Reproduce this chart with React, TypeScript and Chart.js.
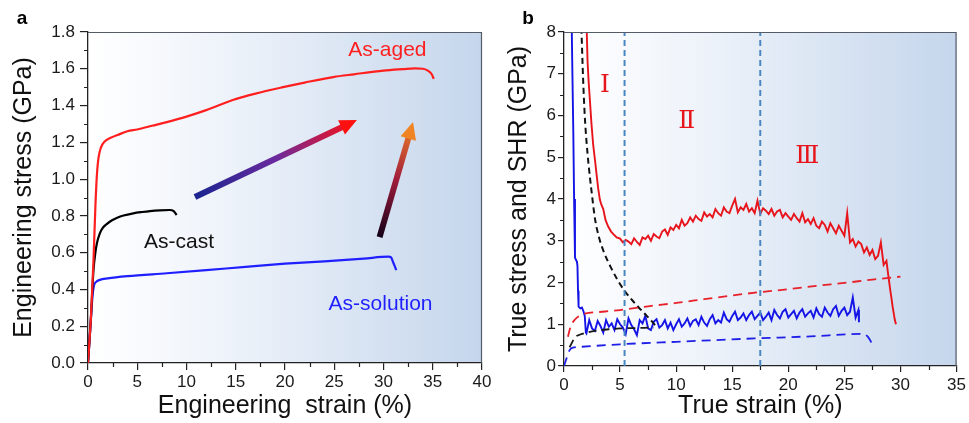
import React, { useEffect, useRef } from 'react';
import { Chart, registerables } from 'chart.js';

Chart.register(...registerables);

const FONT = "'Liberation Sans', Arial, sans-serif";

// ---------------- Panel a : engineering stress-strain ----------------
const xTicksA = [0, 5, 10, 15, 20, 25, 30, 35, 40];
const yTicksA = [0, 0.2, 0.4, 0.6, 0.8, 1.0, 1.2, 1.4, 1.6, 1.8];
const yTickLabelsA = ['0.0', '0.2', '0.4', '0.6', '0.8', '1.0', '1.2', '1.4', '1.6', '1.8'];

const agedStrain = [0, 0.3, 0.55, 0.75, 0.9, 1.05, 1.3, 1.7, 2.3, 3.0, 4.0, 5.0, 6.5, 8.0, 10, 12, 14.7, 17, 19.8, 22, 24.9, 27, 30, 32, 33.2, 34.0, 34.5, 34.9, 35.1];
const agedStress = [0, 0.25, 0.55, 0.85, 1.02, 1.11, 1.17, 1.205, 1.225, 1.24, 1.26, 1.27, 1.29, 1.31, 1.34, 1.375, 1.43, 1.465, 1.5, 1.525, 1.555, 1.57, 1.59, 1.598, 1.602, 1.6, 1.59, 1.57, 1.545];

const castStrain = [0, 0.3, 0.55, 0.75, 0.9, 1.2, 1.5, 1.9, 2.4, 2.9, 3.6, 4.6, 5.5, 6.3, 7.3, 8.3, 8.7, 9.0];
const castStress = [0, 0.25, 0.5, 0.6, 0.65, 0.705, 0.735, 0.755, 0.775, 0.788, 0.802, 0.814, 0.821, 0.826, 0.83, 0.832, 0.826, 0.805];

const solStrain = [0, 0.25, 0.45, 0.6, 0.8, 1.2, 2, 4, 8, 12, 16, 20, 24, 28, 30.5, 30.75, 31.0, 31.3];
const solStress = [0, 0.2, 0.36, 0.42, 0.44, 0.452, 0.46, 0.472, 0.488, 0.505, 0.523, 0.54, 0.553, 0.568, 0.578, 0.575, 0.545, 0.505];

const labelsA = [
  { text: 'As-aged', x: 30.4, y: 1.70, color: '#ff1f1f' },
  { text: 'As-cast', x: 9.24, y: 0.658, color: '#111111' },
  { text: 'As-solution', x: 29.7, y: 0.32, color: '#1f1fff' },
];

const arrowsA = [
  { x0: 10.86, y0: 0.903, x1: 27.3, y1: 1.321, colors: ['#1a2590', '#6a2a9e', '#ff1010'] },
  { x0: 29.6, y0: 0.685, x1: 33.0, y1: 1.31, colors: ['#120018', '#a01c3c', '#f08424'] },
];

// ---------------- Panel b : true stress and SHR ----------------
const xTicksB = [0, 5, 10, 15, 20, 25, 30, 35];
const yTicksB = [0, 1, 2, 3, 4, 5, 6, 7, 8];
const yTickLabelsB = ['0', '1', '2', '3', '4', '5', '6', '7', '8'];

const stageLines = [5.4, 17.5];

// As-aged strain-hardening rate (solid red)
const agedShrX = [
  2.0, 2.1, 2.2, 2.3, 2.45, 2.6, 2.76, 2.9, 3.05, 3.2, 3.35, 3.5, 3.7, 3.94, 4.2, 4.4, 4.7, 5.0,
  5.25, 5.5, 5.75, 6, 6.25, 6.5, 6.75, 7,
  7.25, 7.5, 7.75, 8, 8.25, 8.5, 8.75, 9,
  9.25, 9.5, 9.75, 10, 10.25, 10.5, 10.75, 11,
  11.25, 11.5, 11.75, 12, 12.25, 12.5, 12.75, 13,
  13.25, 13.5, 13.75, 14, 14.25, 14.5, 14.75, 15,
  15.25, 15.5, 15.75, 16, 16.25, 16.5, 16.75, 17,
  17.25, 17.5, 17.75, 18, 18.25, 18.5, 18.75, 19,
  19.25, 19.5, 19.75, 20, 20.25, 20.5, 20.75, 21,
  21.25, 21.5, 21.75, 22, 22.25, 22.5, 22.75, 23,
  23.25, 23.5, 23.75, 24, 24.25, 24.5, 24.75, 25,
  25.25, 25.5, 25.75, 26, 26.25, 26.5, 26.75, 27,
  27.25, 27.5, 27.75, 28, 28.25, 28.5, 28.75,
  28.9, 29.0, 29.1, 29.2, 29.3, 29.4, 29.5, 29.6,
];
const agedShrY = [
  8.3, 7.3, 6.8, 6.4, 5.8, 5.3, 4.94, 4.6, 4.25, 3.98, 3.85, 3.76, 3.5, 3.34, 3.22, 3.16, 3.08, 3.05,
  2.96, 3.02, 2.98, 2.92, 3.06, 2.97, 2.9, 3.08,
  3.04, 3.12, 3.0, 3.16, 3.1, 3.06, 3.22, 3.27,
  3.14, 3.32, 3.26, 3.38, 3.3, 3.5, 3.36, 3.42,
  3.56, 3.46, 3.6, 3.52, 3.48, 3.68, 3.58, 3.64,
  3.56, 3.76, 3.66, 3.6, 3.8, 3.7, 3.66, 3.84,
  4.0, 3.68, 3.8, 3.74, 3.88, 3.7, 3.78, 3.66,
  3.96, 3.64, 3.78, 3.72, 3.64, 3.76, 3.6, 3.7,
  3.74, 3.56, 3.66, 3.58, 3.5, 3.64, 3.54, 3.46,
  3.66, 3.44, 3.52, 3.4, 3.54, 3.36, 3.3, 3.46,
  3.38, 3.22, 3.42, 3.3, 3.18, 3.36, 3.24, 3.12,
  3.66, 2.96, 3.04, 2.86, 2.98, 2.92, 2.72, 2.84,
  2.66, 2.78, 2.56, 2.64, 2.96, 2.42, 2.52,
  2.2, 2.0, 1.8, 1.62, 1.42, 1.26, 1.1, 1.0,
];

// As-aged true stress (dashed red)
const agedTrueX = [0.35, 0.6, 1.0, 1.5, 2.2, 3.0, 5, 7.5, 10, 12.5, 15, 17.5, 20, 22.5, 25, 27.5, 30];
const agedTrueY = [0.7, 0.95, 1.12, 1.22, 1.27, 1.29, 1.34, 1.43, 1.51, 1.6, 1.69, 1.77, 1.84, 1.92, 1.99, 2.07, 2.14];

// As-cast SHR (dashed black)
const castShrX = [1.55, 1.7, 1.85, 2.0, 2.2, 2.45, 2.75, 3.1, 3.6, 4.2, 4.8, 5.4, 6.0, 6.6, 7.2, 7.8, 8.3];
const castShrY = [8.1, 6.9, 6.0, 5.4, 4.8, 4.2, 3.55, 3.1, 2.7, 2.35, 2.05, 1.8, 1.6, 1.42, 1.25, 1.08, 0.92];

// As-cast true stress (dashed black, low)
const castTrueX = [0.5, 1.0, 1.5, 2.0, 3.0, 4.0, 5.0, 6.5, 8.0];
const castTrueY = [0.45, 0.69, 0.76, 0.8, 0.85, 0.88, 0.9, 0.91, 0.92];

// As-solution SHR (solid blue)
const solShrX = [
  0.68, 0.75, 0.83, 0.9, 0.98, 1.05, 1.15, 1.2, 1.25, 1.3, 1.45, 1.6, 1.75, 1.85, 1.95,
  2, 2.25, 2.5, 2.75, 3, 3.25, 3.5, 3.75,
  4, 4.25, 4.5, 4.75, 5, 5.25, 5.5, 5.75,
  6, 6.25, 6.5, 6.75, 7, 7.25, 7.5, 7.75,
  8, 8.25, 8.5, 8.75, 9, 9.25, 9.5, 9.75,
  10, 10.25, 10.5, 10.75, 11, 11.25, 11.5, 11.75,
  12, 12.25, 12.5, 12.75, 13, 13.25, 13.5, 13.75,
  14, 14.25, 14.5, 14.75, 15, 15.25, 15.5, 15.75,
  16, 16.25, 16.5, 16.75, 17, 17.25, 17.5, 17.75,
  18, 18.25, 18.5, 18.75, 19, 19.25, 19.5, 19.75,
  20, 20.25, 20.5, 20.75, 21, 21.25, 21.5, 21.75,
  22, 22.25, 22.5, 22.75, 23, 23.25, 23.5, 23.75,
  24, 24.25, 24.5, 24.75, 25, 25.25, 25.5, 25.75,
  26, 26.25, 26.3,
];
const solShrY = [
  8.3, 7.0, 5.6, 4.0, 2.6, 2.55, 2.5, 2.4, 1.8, 1.42, 1.38, 1.4, 1.3, 1.2, 0.8,
  0.78, 1.1, 0.9, 0.84, 1.08, 0.96, 0.8, 1.1,
  0.94, 1.02, 0.86, 1.12, 1.0, 0.92, 0.76, 1.14,
  0.98, 0.88, 0.74, 1.1, 1.02, 1.2, 0.9, 0.86,
  1.06, 1.12, 0.92, 0.98, 1.1, 0.9, 1.04, 0.86,
  1.0, 1.12, 0.94, 1.02, 1.14, 0.96, 1.08, 1.12,
  0.98, 1.18, 1.04, 0.96, 1.12, 1.22, 1.02, 1.1,
  1.04, 1.28, 1.12, 1.06, 1.2, 1.3, 1.1, 1.16,
  1.26, 1.1, 1.22, 1.3, 1.12, 1.2, 1.28, 1.1,
  1.18, 1.28, 1.1, 1.34, 1.22, 1.14, 1.3, 1.36,
  1.16, 1.24, 1.32, 1.14, 1.28, 1.36, 1.18, 1.26,
  1.32, 1.16, 1.38, 1.24, 1.18, 1.4, 1.28, 1.2,
  1.36, 1.44, 1.2, 1.32, 1.4, 1.22, 1.3, 1.64,
  1.16, 1.34, 1.05,
];

// As-solution true stress (dashed blue)
const solTrueX = [0, 0.25, 0.5, 0.8, 1.5, 5, 10, 17, 22, 26.6, 27.1, 27.5];
const solTrueY = [0, 0.2, 0.38, 0.44, 0.46, 0.52, 0.58, 0.66, 0.71, 0.77, 0.7, 0.52];

const stageLabels = [
  { text: 'Ⅰ', x: 3.64, y: 6.73 },
  { text: 'Ⅱ', x: 10.95, y: 5.85 },
  { text: 'Ⅲ', x: 21.7, y: 5.01 },
];

// ---------------- helpers ----------------
const pts = (xs: number[], ys: number[]) => xs.map((x, i) => ({ x, y: ys[i] }));

type Txt = { text: string; x: number; y: number; color?: string };
type Arr = { x0: number; y0: number; x1: number; y1: number; colors: string[] };

function decorPlugin(cfg: {
  panel: string;
  panelX: number;
  xTicks: number[];
  yTicks: number[];
  texts: Txt[];
  textFont: string;
  textColor?: string;
  arrows: Arr[];
}) {
  return {
    id: 'decor' + cfg.panel,
    beforeDraw(chart: any) {
      const { ctx, chartArea: a } = chart;
      ctx.save();
      const g = ctx.createLinearGradient(a.left, 0, a.right, 0);
      g.addColorStop(0, '#ffffff');
      g.addColorStop(0.35, '#eef3fa');
      g.addColorStop(1, '#c5d6ec');
      ctx.fillStyle = g;
      ctx.fillRect(a.left, a.top, a.right - a.left, a.bottom - a.top);
      ctx.restore();
    },
    afterDraw(chart: any) {
      const { ctx, chartArea: a, scales } = chart;
      const xs = scales.x, ys = scales.y;
      ctx.save();
      // frame (top & right)
      ctx.strokeStyle = '#555b66';
      ctx.lineWidth = 1.2;
      ctx.beginPath();
      ctx.moveTo(a.left, a.top + 0.5);
      ctx.lineTo(a.right - 0.5, a.top + 0.5);
      ctx.lineTo(a.right - 0.5, a.bottom);
      ctx.stroke();
      // minor ticks
      ctx.strokeStyle = '#222';
      ctx.lineWidth = 1.2;
      ctx.beginPath();
      for (let i = 0; i < cfg.xTicks.length - 1; i++) {
        const px = Math.round(xs.getPixelForValue((cfg.xTicks[i] + cfg.xTicks[i + 1]) / 2)) + 0.5;
        ctx.moveTo(px, a.bottom);
        ctx.lineTo(px, a.bottom + 4);
      }
      for (let i = 0; i < cfg.yTicks.length - 1; i++) {
        const py = Math.round(ys.getPixelForValue((cfg.yTicks[i] + cfg.yTicks[i + 1]) / 2)) + 0.5;
        ctx.moveTo(a.left, py);
        ctx.lineTo(a.left - 4, py);
      }
      ctx.stroke();
      // arrows
      for (const ar of cfg.arrows) {
        const sx = xs.getPixelForValue(ar.x0), sy = ys.getPixelForValue(ar.y0);
        const ex = xs.getPixelForValue(ar.x1), ey = ys.getPixelForValue(ar.y1);
        const dx = ex - sx, dy = ey - sy;
        const len = Math.hypot(dx, dy);
        const ux = dx / len, uy = dy / len;
        const head = 17, hw = 8;
        const bx = ex - ux * head, by = ey - uy * head;
        const g = ctx.createLinearGradient(sx, sy, ex, ey);
        ar.colors.forEach((c, i) => g.addColorStop(i / (ar.colors.length - 1), c));
        ctx.strokeStyle = g;
        ctx.lineWidth = 6;
        ctx.lineCap = 'butt';
        ctx.beginPath();
        ctx.moveTo(sx, sy);
        ctx.lineTo(bx + ux * 2, by + uy * 2);
        ctx.stroke();
        ctx.fillStyle = ar.colors[ar.colors.length - 1];
        ctx.beginPath();
        ctx.moveTo(ex, ey);
        ctx.lineTo(bx - uy * hw, by + ux * hw);
        ctx.lineTo(bx + uy * hw, by - ux * hw);
        ctx.closePath();
        ctx.fill();
      }
      // texts
      ctx.font = cfg.textFont;
      ctx.textAlign = 'center';
      ctx.textBaseline = 'middle';
      for (const t of cfg.texts) {
        ctx.fillStyle = t.color || cfg.textColor || '#000';
        ctx.fillText(t.text, xs.getPixelForValue(t.x), ys.getPixelForValue(t.y));
      }
      // panel letter
      ctx.fillStyle = '#000';
      ctx.font = `bold 19px ${FONT}`;
      ctx.fillText(cfg.panel, cfg.panelX, 19);
      ctx.restore();
    },
  };
}

function axisOpts(o: {
  min: number; max: number; ticks: number[]; labels?: string[]; size: number; horizontal: boolean;
  title: string; titlePad: number; tickLen: number; tickPad: number;
}) {
  return {
    type: 'linear',
    min: o.min,
    max: o.max,
    afterBuildTicks: (s: any) => { s.ticks = o.ticks.map((v) => ({ value: v })); },
    afterFit: (s: any) => { if (o.horizontal) s.height = o.size; else s.width = o.size; },
    grid: { drawOnChartArea: false, drawTicks: true, tickLength: o.tickLen, color: '#222', lineWidth: 1.2 },
    border: { display: true, color: '#222', width: 1.3 },
    ticks: {
      autoSkip: false,
      maxRotation: 0,
      padding: o.tickPad,
      color: '#1a1a1a',
      font: { size: 17, family: FONT },
      callback: (v: number) => {
        const i = o.ticks.findIndex((t) => Math.abs(t - v) < 1e-9);
        return o.labels ? (i >= 0 ? o.labels[i] : '') : String(v);
      },
    },
    title: {
      display: true,
      text: o.title,
      color: '#111',
      font: { size: 25, family: FONT },
      padding: o.horizontal ? { top: 0, bottom: o.titlePad } : { top: o.titlePad, bottom: 0 },
    },
  };
}

function useChart(ref: React.RefObject<HTMLCanvasElement>, make: () => any) {
  useEffect(() => {
    if (!ref.current) return;
    const chart = new Chart(ref.current, make());
    return () => chart.destroy();
  }, []);
}

export default function App() {
  const refA = useRef<HTMLCanvasElement>(null);
  const refB = useRef<HTMLCanvasElement>(null);

  useChart(refA, () => ({
    type: 'line',
    data: {
      datasets: [
        { data: pts(agedStrain, agedStress), borderColor: '#ff1f1f', borderWidth: 2.2, cubicInterpolationMode: 'monotone' },
        { data: pts(castStrain, castStress), borderColor: '#000000', borderWidth: 2.2, cubicInterpolationMode: 'monotone' },
        { data: pts(solStrain, solStress), borderColor: '#1f1fff', borderWidth: 2.2, cubicInterpolationMode: 'monotone' },
      ],
    },
    options: {
      animation: false,
      responsive: false,
      maintainAspectRatio: false,
      layout: { padding: { left: 0, top: 32, right: 18, bottom: 0 } },
      elements: { point: { radius: 0 }, line: { tension: 0 } },
      plugins: { legend: { display: false }, tooltip: { enabled: false } },
      scales: {
        x: axisOpts({ min: 0, max: 40, ticks: xTicksA, size: 60, horizontal: true, title: 'Engineering  strain (%)', titlePad: 2, tickLen: 7, tickPad: 2 }),
        y: axisOpts({ min: 0, max: 1.8, ticks: yTicksA, labels: yTickLabelsA, size: 88, horizontal: false, title: 'Engineering stress (GPa)', titlePad: 9, tickLen: 8, tickPad: 5 }),
      },
    },
    plugins: [decorPlugin({ panel: 'a', panelX: 22, xTicks: xTicksA, yTicks: yTicksA, texts: labelsA, textFont: `21px ${FONT}`, arrows: arrowsA })],
  }));

  useChart(refB, () => {
    const dashed = (data: any, color: string, dash: number[], w = 1.8) => ({
      data, borderColor: color, borderWidth: w, borderDash: dash, cubicInterpolationMode: 'monotone',
    });
    return {
      type: 'line',
      data: {
        datasets: [
          ...stageLines.map((x) => ({ data: [{ x, y: 0 }, { x, y: 8 }], borderColor: '#4a86c0', borderWidth: 2, borderDash: [6, 4] })),
          dashed(pts(solTrueX, solTrueY), '#1f1fe8', [9, 6]),
          dashed(pts(castTrueX, castTrueY), '#1a1a1a', [8, 5]),
          dashed(pts(agedTrueX, agedTrueY), '#e8202a', [9, 6]),
          dashed(pts(castShrX, castShrY), '#111111', [6, 4], 2),
          { data: pts(agedShrX, agedShrY), borderColor: '#e8141c', borderWidth: 1.9 },
          { data: pts(solShrX, solShrY), borderColor: '#1414e6', borderWidth: 1.9 },
        ],
      },
      options: {
        animation: false,
        responsive: false,
        maintainAspectRatio: false,
        layout: { padding: { left: 0, top: 32, right: 11, bottom: 0 } },
        elements: { point: { radius: 0 }, line: { tension: 0 } },
        plugins: { legend: { display: false }, tooltip: { enabled: false } },
        scales: {
          x: axisOpts({ min: 0, max: 35, ticks: xTicksB, size: 57, horizontal: true, title: 'True strain (%)', titlePad: 2, tickLen: 6, tickPad: 3 }),
          y: axisOpts({ min: 0, max: 8, ticks: yTicksB, labels: yTickLabelsB, size: 74, horizontal: false, title: 'True stress and SHR (GPa)', titlePad: 14, tickLen: 6, tickPad: 2 }),
        },
      },
      plugins: [decorPlugin({ panel: 'b', panelX: 38, xTicks: xTicksB, yTicks: yTicksB, texts: stageLabels, textFont: `25px 'DejaVu Serif', serif`, textColor: '#e8141c', arrows: [] })],
    };
  });

  return (
    <div style={{ position: 'fixed', left: 0, top: 0, width: 969, height: 423, background: '#ffffff', overflow: 'hidden' }}>
      <canvas ref={refA} width={500} height={423} style={{ position: 'absolute', left: 0, top: 0, width: 500, height: 423 }} />
      <canvas ref={refB} width={479} height={423} style={{ position: 'absolute', left: 490, top: 0, width: 479, height: 423 }} />
    </div>
  );
}
